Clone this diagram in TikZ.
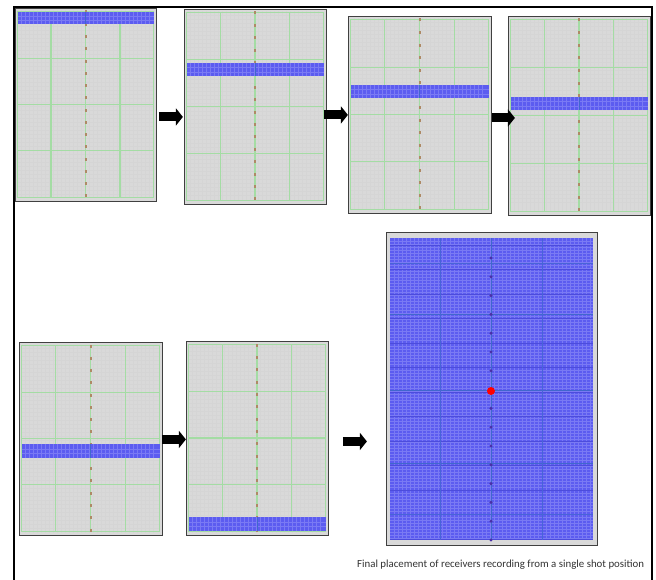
\documentclass[tikz,border=0pt]{standalone}
\usepackage{fontspec}
\setmainfont{Carlito}
\usetikzlibrary{arrows.meta}
\definecolor{pgray}{HTML}{D9D9D9}
\definecolor{fine}{HTML}{D5D5D5}
\definecolor{pgreen}{HTML}{A4DCA4}
\definecolor{pblue}{HTML}{5C5CF0}
\definecolor{bline}{HTML}{7A7AF4}
\definecolor{bdark}{HTML}{4C4CDC}
\definecolor{bgreen}{HTML}{4068CC}
\definecolor{pdot}{HTML}{AE8A66}
\definecolor{fdot}{HTML}{4A2FA8}
\tikzset{
  x=1pt,y=-1pt,
  panel/.style={draw=black!75,line width=.9pt,fill=pgray,anchor=north west,inner sep=0pt},
  blockarrow/.style={line width=9pt,-{Triangle[length=7pt,width=17pt]},black},
  frameline/.style={draw=black,line width=1.8pt},
  gridline/.style={pgreen,line width=1.25pt},
  dotmark/.style={fill=pdot,draw=none},
  caption/.style={font=\fontsize{10.85}{12}\selectfont,text=black!80,inner sep=0pt,anchor=base west}
}
% name, x, y, w, h, band top, band height
\newcommand{\smallpanel}[7]{%
  \node[panel,minimum width=#4pt,minimum height=#5pt] (#1) at (#2,#3) {};
  \begin{scope}[shift={(#2,#3)}]
    \foreach \k in {1,...,46} \draw[fine,line width=.25pt] (2.5,{2.5+\k*4}) -- ({#4-2.5},{2.5+\k*4});
    \foreach \k in {1,...,33} \draw[fine,line width=.25pt] ({2.5+\k*4},2.5) -- ({2.5+\k*4},{#5-2.5});
    \draw[gridline] (2.5,3.5) rectangle ({#4-2.5},{#5-3.5});
    \foreach \f in {.26,.5,.74} \draw[gridline] (2.5,{#5*\f}) -- ({#4-2.5},{#5*\f});
    \foreach \f in {.255,.5,.745} \draw[gridline] ({#4*\f},3.5) -- ({#4*\f},{#5-3.5});
    \foreach \k in {0,...,15} \fill[dotmark] ({#4*.5-1},{4+\k*(#5-9)/15-1.5}) rectangle ++(2,3);
    \fill[pblue] (2.5,{#6-#3}) rectangle ({#4-2.5},{#6-#3+#7});
    \foreach \k in {1,...,33} \draw[bline,line width=.3pt] ({2.5+\k*4},{#6-#3}) -- ({2.5+\k*4},{#6-#3+#7});
    \foreach \k in {1,2} \draw[bline,line width=.3pt] (2.5,{#6-#3+\k*#7/3}) -- ({#4-2.5},{#6-#3+\k*#7/3});
    \draw[bgreen,line width=.6pt] ({#4*.5},{#6-#3}) -- ({#4*.5},{#6-#3+#7});
  \end{scope}
}
\begin{document}
\begin{tikzpicture}
\useasboundingbox (0,0) rectangle (656,580);
\fill[white] (0,0) rectangle (656,580);
% outer frame
\coordinate (fbl) at (14,580);
\coordinate (ftl) at (14,7);
\coordinate (ftr) at (652,7);
\coordinate (fbr) at (652,580);
\draw[frameline] (fbl) -- (ftl) -- (ftr) -- (fbr);

\smallpanel{pa}{15}{8}{141}{193}{12}{12}
\smallpanel{pb}{184}{9}{142}{195}{63}{13}
\smallpanel{pc}{348}{16}{143}{197}{85}{13}
\smallpanel{pd}{508}{16}{142}{199}{97}{13}
\smallpanel{pe}{19}{342}{143}{193}{444}{14}
\smallpanel{pf}{186}{341}{142}{194}{517}{14}

% final panel
\node[panel,minimum width=211pt,minimum height=313pt] (pg) at (386,232) {};
\fill[pblue] (390,238) rectangle (593,540);
\foreach \k in {1,...,50} \draw[bline,line width=.4pt] ({390+\k*4},238) -- ({390+\k*4},540);
\foreach \k in {1,...,100} \draw[bline,line width=.4pt] (390,{238+\k*3}) -- (593,{238+\k*3});
\foreach \k in {0,...,12} \draw[bdark,line width=.4pt] (390,{245+\k*24.5}) -- (593,{245+\k*24.5});
\foreach \yy in {314,390,463} \draw[bgreen,line width=.9pt] (390,\yy) -- (593,\yy);
\foreach \yy in {263,514} \draw[bgreen!70!pblue,line width=.7pt] (390,\yy) -- (593,\yy);
\foreach \xx in {440,542} \draw[bgreen!70!pblue,line width=.7pt] (\xx,238) -- (\xx,540);
\draw[bgreen,line width=.9pt] (491,238) -- (491,540);
\foreach \k in {0,...,15} \fill[fdot] (491,{258+\k*18.8}) circle (1.7);
\node[circle,fill=red,minimum size=8pt,inner sep=0pt] (shot) at (491,391) {};

% arrows
\draw[blockarrow] ([yshift=-12pt]pa.east) ++(2,0) -- +(24,0);
\draw[blockarrow] ([yshift=0pt]pb.east) ++(-3,8) -- +(24,0);
\draw[blockarrow] ([yshift=0pt]pc.east) ++(0,3) -- +(23,0);
\draw[blockarrow] ([yshift=0pt]pe.east) ++(-1,0.5) -- +(24,0);
\draw[blockarrow] ([yshift=0pt]pf.east) ++(14,3) -- +(24,0);

\node[caption] (cap) at (357,567) {Final placement of receivers recording from a single shot position};
\end{tikzpicture}
\end{document}
